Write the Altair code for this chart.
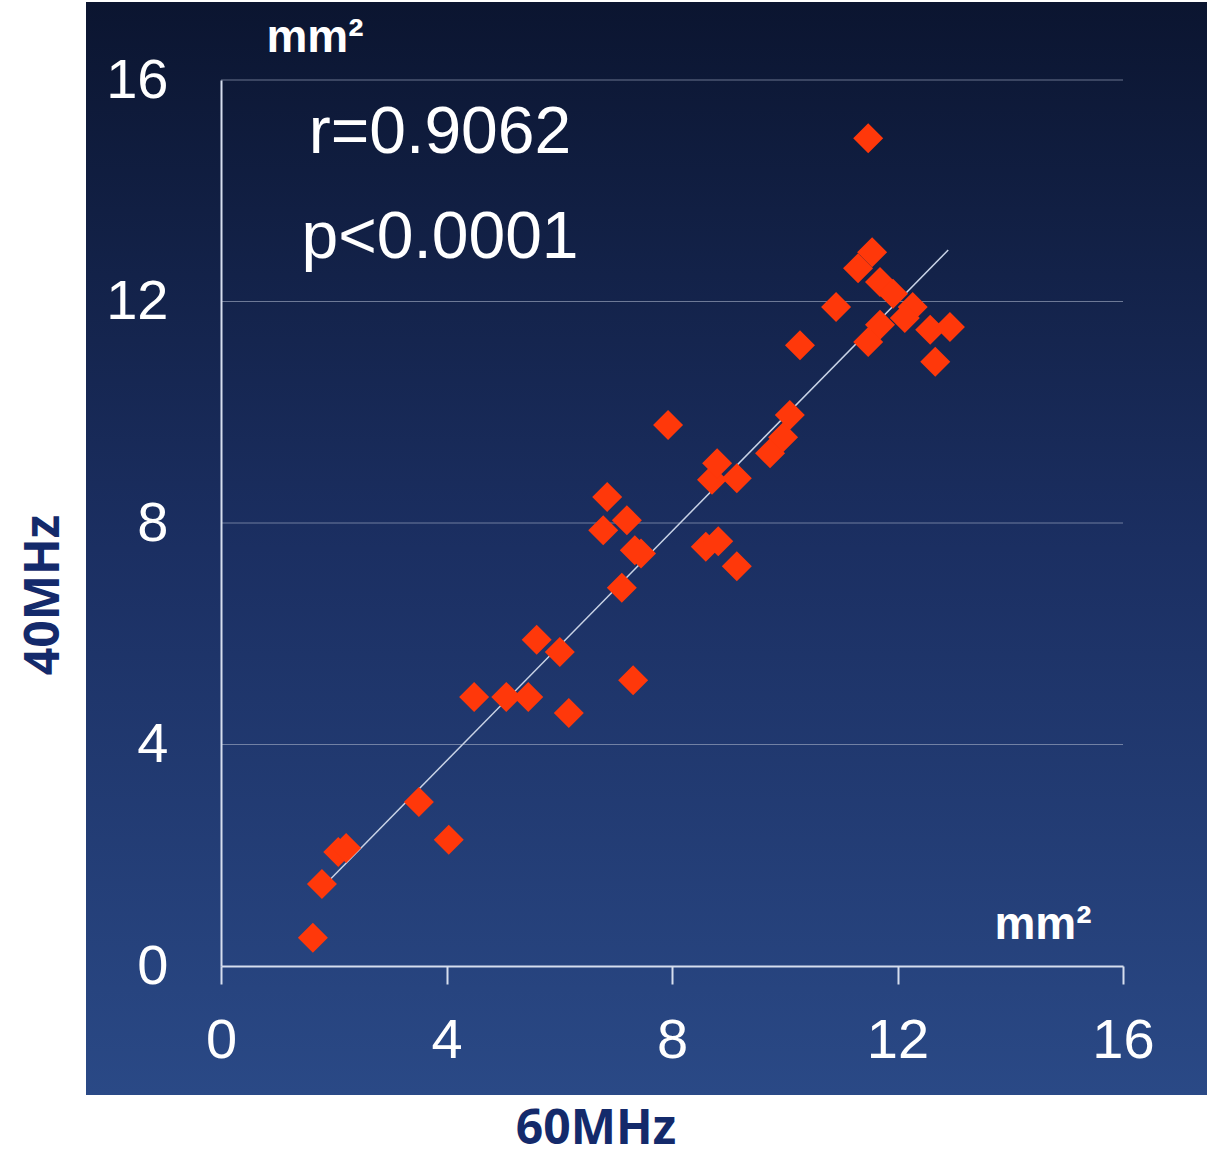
import altair as alt
import pandas as pd

# Data
x_60mhz = [1.63, 1.79, 2.08, 2.22, 3.51, 4.04, 4.49, 5.06, 5.45, 5.60, 6.01, 6.17,
           6.85, 6.78, 7.20, 7.34, 7.11, 7.31, 7.93, 8.60, 8.82, 9.15, 8.71, 8.80,
           9.15, 9.74, 9.97, 10.09, 10.27, 10.91, 11.48, 11.55, 11.30, 11.69, 11.92,
           12.27, 12.13, 12.58, 12.93, 11.69, 11.48, 12.67, 7.45]
y_40mhz = [0.51, 1.48, 2.06, 2.13, 2.96, 2.28, 4.86, 4.86, 4.86, 5.89, 5.67, 4.57,
           8.47, 7.87, 8.05, 7.51, 6.83, 5.16, 9.77, 7.57, 7.67, 7.22, 8.78, 9.08,
           8.81, 9.26, 9.55, 9.95, 11.21, 11.90, 14.95, 12.89, 12.60, 12.35, 12.14,
           11.90, 11.70, 11.49, 11.54, 11.58, 11.27, 10.91, 7.45]
fit_x = [1.70, 12.90]
fit_y = [1.32, 12.93]
tick_values = [0, 4, 8, 12, 16]
grid_values = [4, 8, 12, 16]

pts = pd.DataFrame({"x": x_60mhz, "y": y_40mhz})
fit = pd.DataFrame({"x": fit_x, "y": fit_y})
grid = pd.DataFrame({"y": grid_values})
one = pd.DataFrame({"a": [0]})

W, H = 902, 886
xs = alt.Scale(domain=[0, 16], nice=False)
ys = alt.Scale(domain=[0, 16], nice=False)

bg = alt.Chart(one).mark_rect(
    color=alt.Gradient(
        gradient="linear",
        stops=[alt.GradientStop(color="#0b1530", offset=0),
               alt.GradientStop(color="#1b2f62", offset=0.5),
               alt.GradientStop(color="#2a4986", offset=1)],
        x1=0, x2=0, y1=0, y2=1)
).encode(x=alt.value(-135), x2=alt.value(986), y=alt.value(-78), y2=alt.value(1015))

gridlines = alt.Chart(grid).mark_rule(color="#a9b3c8", strokeWidth=1, opacity=0.6).encode(
    y=alt.Y("y:Q", scale=ys), x=alt.value(0), x2=alt.value(W))

points = alt.Chart(pts).mark_point(shape="diamond", filled=True, size=900,
                                   color="#ff380a", opacity=1).encode(
    x=alt.X("x:Q", scale=xs,
            axis=alt.Axis(values=tick_values, format="d", title=None, grid=False,
                          labelFontSize=56, labelColor="white", labelFont="Liberation Sans",
                          domainColor="#d6deee", domainWidth=2, tickColor="#d6deee",
                          tickWidth=2, tickSize=18, labelPadding=29, zindex=1,
                          labelFlush=False)),
    y=alt.Y("y:Q", scale=ys,
            axis=alt.Axis(values=tick_values, format="d", title=None, grid=False,
                          labelFontSize=56, labelColor="white", labelFont="Liberation Sans",
                          domainColor="#d6deee", domainWidth=2, ticks=False,
                          labelPadding=53, zindex=1, labelFlush=False)))

line = alt.Chart(fit).mark_line(color="#c9d3e6", strokeWidth=1.5).encode(
    x=alt.X("x:Q", scale=xs), y=alt.Y("y:Q", scale=ys))

def txt(text, x, y, size, bold=False, color="white", font="Liberation Sans", angle=0):
    kw = dict(text=text, fontSize=size, color=color, font=font,
              align="center", baseline="middle",
              fontWeight="bold" if bold else "normal")
    if angle:
        kw["angle"] = angle
    return alt.Chart(one).mark_text(**kw).encode(x=alt.value(x), y=alt.value(y))

texts = [
    txt("mm²", 94, -42, 46, bold=True),
    txt("mm²", 822, 845, 46, bold=True),
    txt("r=0.9062", 219, 53, 66),
    txt("p<0.0001", 219, 158, 66),
    txt("40MHz", -176, 515, 48, bold=True, color="#142a6b", font="Open Sans", angle=270),
    txt("60MHz", 375, 1050, 48, bold=True, color="#142a6b", font="Open Sans"),
]

chart = alt.layer(bg, gridlines, line, points, *texts).properties(
    width=W, height=H,
    autosize=alt.AutoSizeParams(type="none"),
    padding={"left": 221, "top": 80, "right": 99, "bottom": 191},
    background="white",
).configure_view(stroke=None)

chart.save("out.html", embed_options={"renderer": "svg", "actions": False})
